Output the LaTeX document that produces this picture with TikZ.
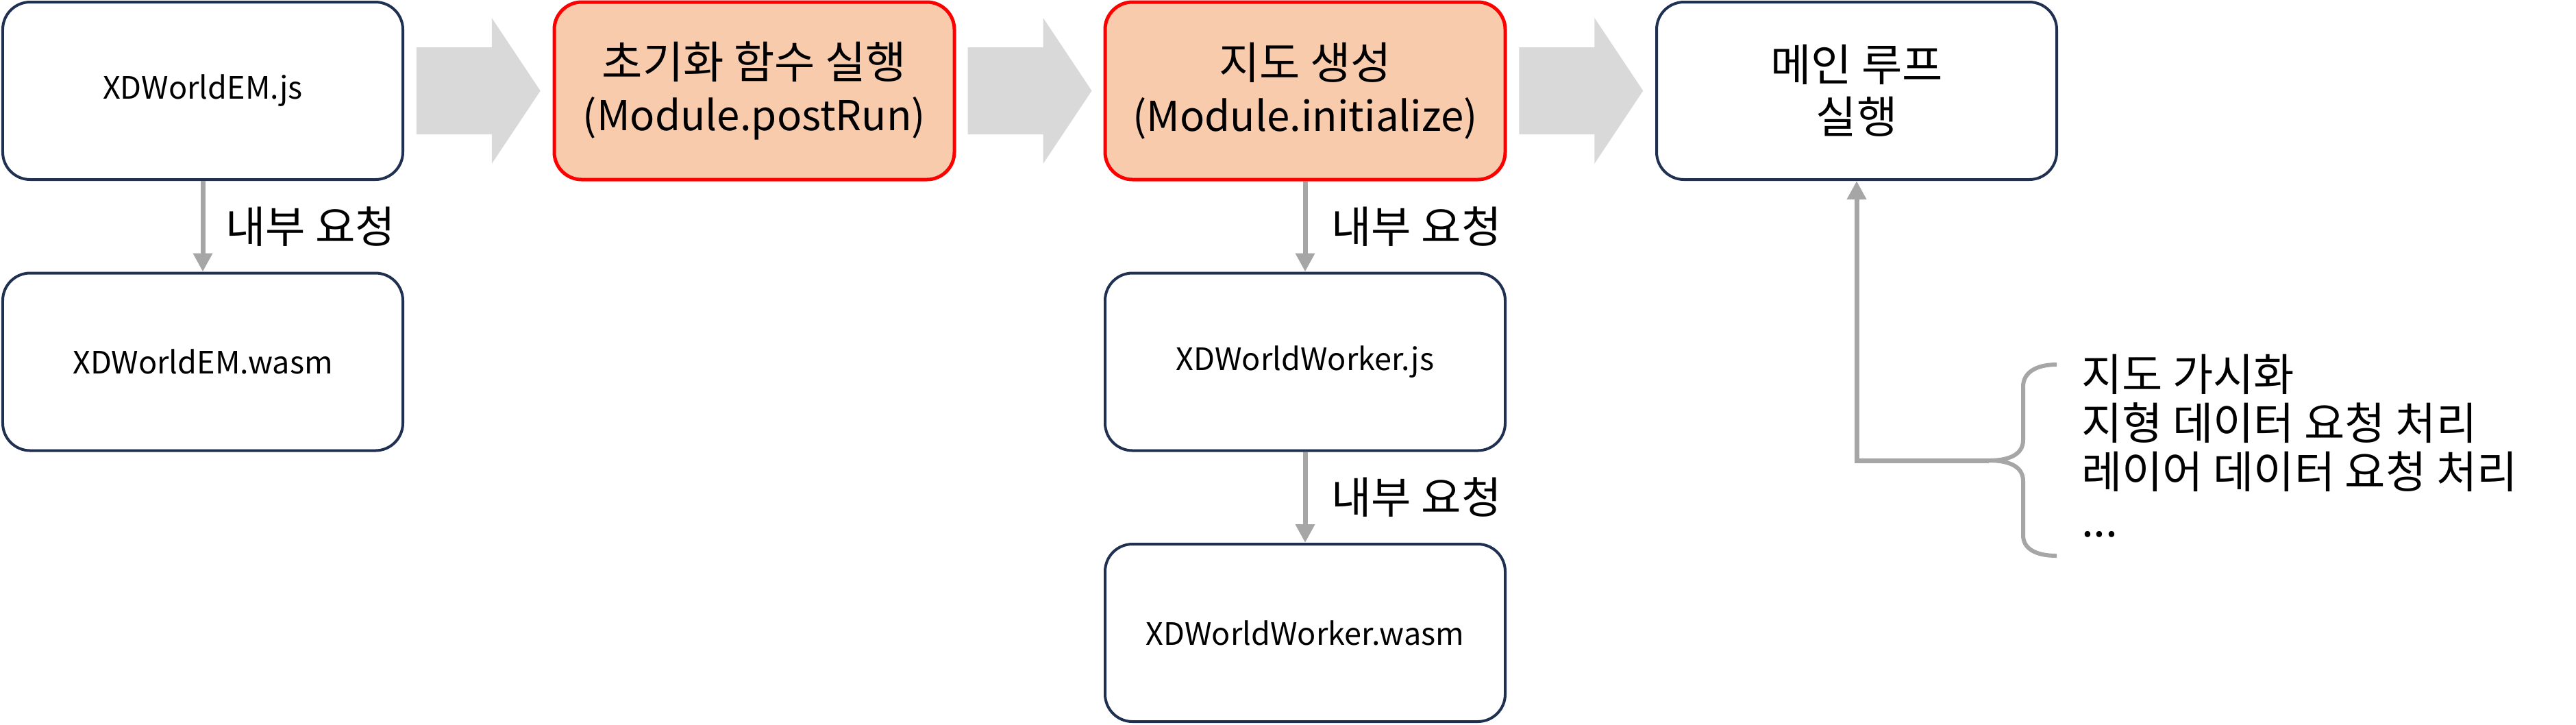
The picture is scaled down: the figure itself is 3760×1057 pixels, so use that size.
\documentclass[tikz,border=0pt]{standalone}
\usepackage{fontspec}
\setmainfont{Noto Sans CJK KR}
\usetikzlibrary{arrows.meta,calc}
\definecolor{navy}{HTML}{1F3050}
\definecolor{redb}{HTML}{FF0000}
\definecolor{peach}{HTML}{F8CBAD}
\definecolor{arrowgray}{HTML}{D9D9D9}
\definecolor{conngray}{HTML}{A6A6A6}
\newcommand\krsz{\fontsize{12.9}{15.2}\selectfont}
\newcommand\lasz{\fontsize{12}{15.2}\selectfont}
\begin{document}
\begin{tikzpicture}[x=0.2pt,y=-0.2pt,
  box/.style={draw=navy, line width=0.8pt, rounded corners=8pt, minimum width=116.8pt, minimum height=51.8pt, align=center, inner sep=0pt, fill=white},
  hlbox/.style={box, draw=redb, line width=1pt, fill=peach},
  fname/.style={font=\fontsize{9}{11}\selectfont},
  ktext/.style={font=\krsz},
  conn/.style={draw=conngray, line width=1.4pt, -{Triangle[width=5.4pt,length=5.4pt]}},
  lbl/.style={font=\fontsize{12.7}{14}\selectfont, inner sep=0pt},
  bigarrow/.style={fill=arrowgray},
  bracestyle/.style={draw=conngray, line width=1.2pt}
]
\useasboundingbox (0,0) rectangle (3760,1057);

\node[box, fname] (A) at (296,132.5) {XDWorldEM.js};
\node[box, fname] (B) at (296,528) {XDWorldEM.wasm};
\node[hlbox, ktext] (C) at (1101,132.5) {\krsz 초기화 함수 실행\\\lasz (Module.postRun)};
\node[hlbox, ktext] (D) at (1905,132.5) {\krsz 지도 생성\\\lasz (Module.initialize)};
\node[box, fname] (E) at (1905,528) {XDWorldWorker.js};
\node[box, fname] (F) at (1905,923.5) {XDWorldWorker.wasm};
\node[box, ktext] (G) at (2710,132.5) {\krsz 메인 루프\\\krsz 실행};

% big block arrows between the top-row boxes
\foreach \p/\q in {A/C, C/D, D/G}{
  \coordinate (m) at ($(\p.east)!0.5!(\q.west)$);
  \fill[bigarrow] ([shift={(-90.5,-63.5)}]m) -- ([shift={(19.5,-63.5)}]m)
    -- ([shift={(19.5,-106.5)}]m) -- ([shift={(90.5,0)}]m)
    -- ([shift={(19.5,106.5)}]m) -- ([shift={(19.5,63.5)}]m)
    -- ([shift={(-90.5,63.5)}]m) -- cycle;
}

% internal request connectors
\draw[conn] (A) -- (B) node[midway, right=6pt, lbl] {내부 요청};
\draw[conn] (D) -- (E) node[midway, right=7pt, lbl] {내부 요청};
\draw[conn] (E) -- (F) node[midway, right=7pt, lbl] {내부 요청};

% brace and list
\coordinate (bt) at (2903,672);
\draw[bracestyle] (3002,532) .. controls (2970,532) and (2953,545) .. (2953,564)
  -- (2953,642) .. controls (2953,662) and (2935,672) .. (bt)
  .. controls (2935,672) and (2953,682) .. (2953,702)
  -- (2953,781) .. controls (2953,800) and (2970,811) .. (3002,811);
\draw[conn] (bt) -| (G.south);

\node[anchor=north west, inner sep=0pt, align=left, font=\fontsize{12.9}{14.2}\selectfont] (list) at (3037,516)
  {지도 가시화\\지형 데이터 요청 처리\\레이어 데이터 요청 처리\\...};
\end{tikzpicture}
\end{document}
